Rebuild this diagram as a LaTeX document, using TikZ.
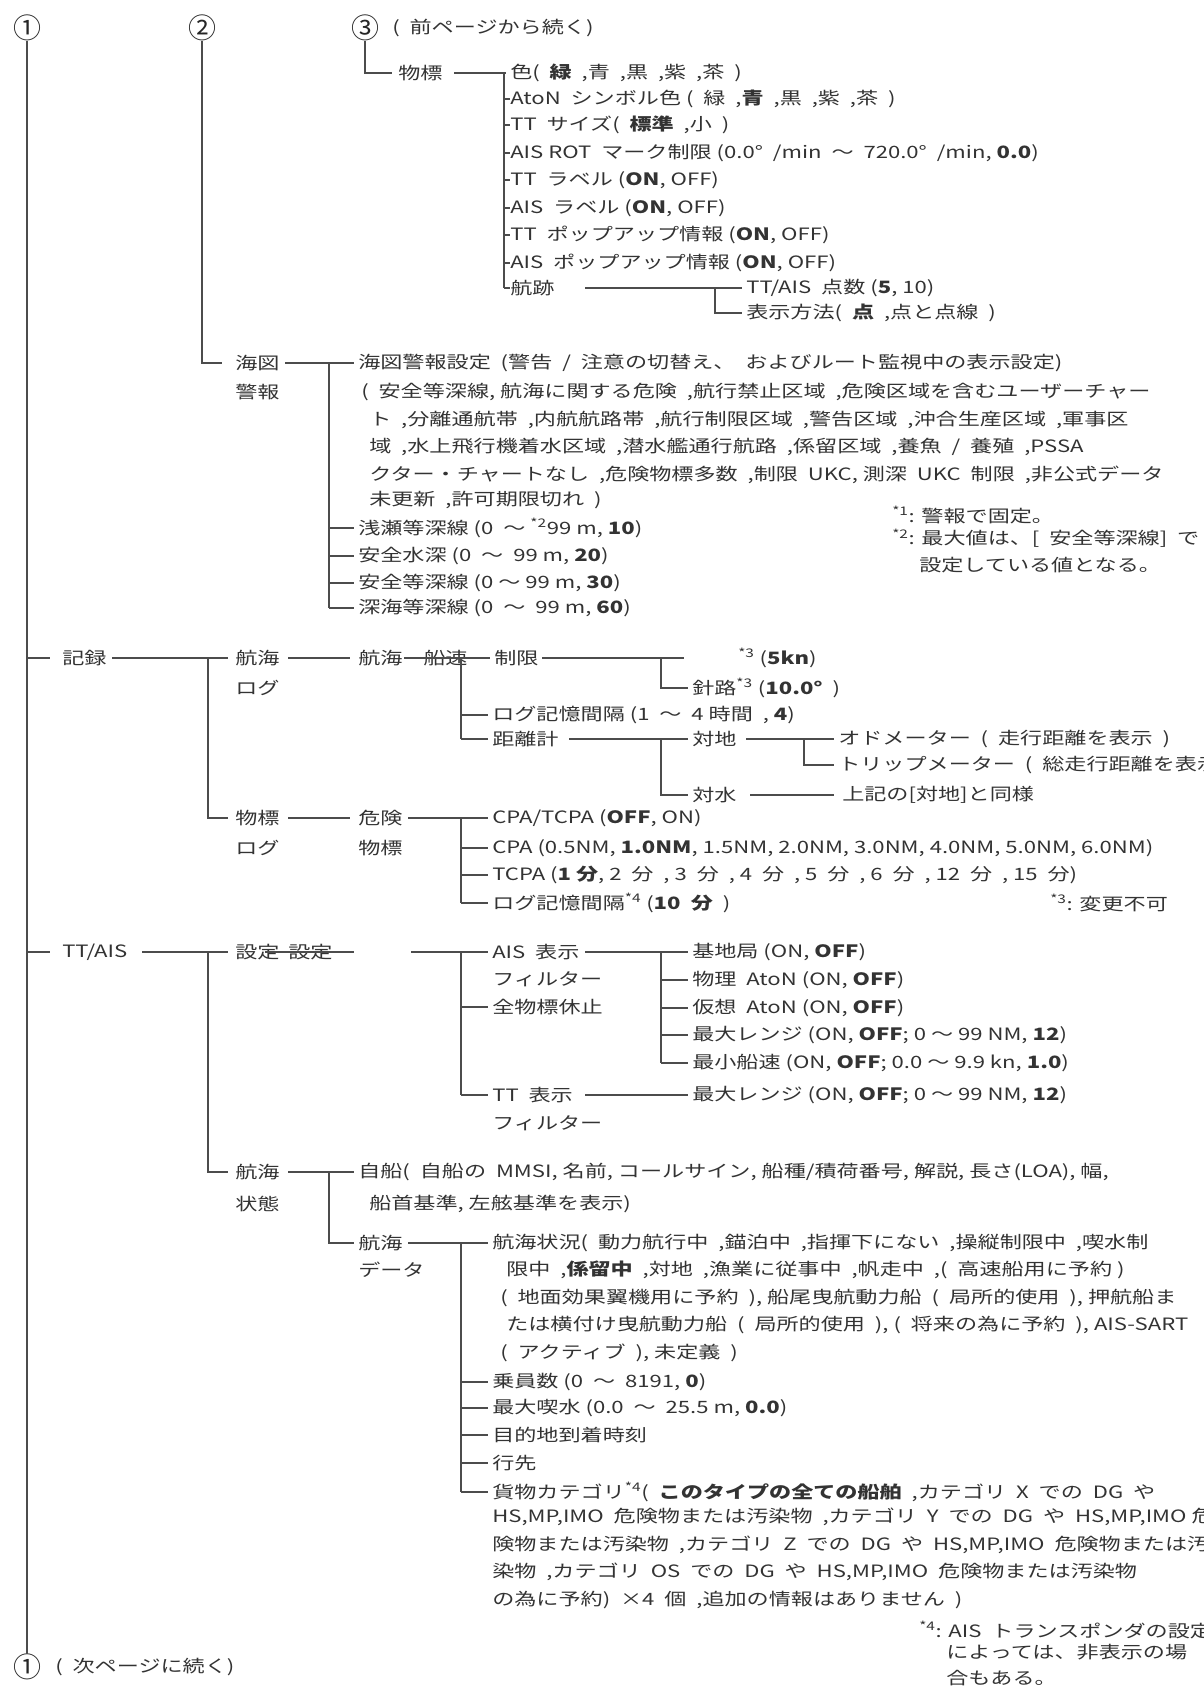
\documentclass[tikz,border=0pt]{standalone}
\usepackage{fontspec}
\setmainfont{Noto Sans CJK JP}
\newfontfamily\jp{Noto Sans CJK JP}
\begin{document}
\begin{tikzpicture}[x=1pt,y=-1pt,
 t/.style={anchor=west,inner sep=0pt,font=\jp\fontsize{17}{17}\selectfont,text=black!80,xscale=1.3},
 cn/.style={anchor=center,inner sep=0pt,font=\jp\fontsize{28}{28}\selectfont,text=black!85},
 ln/.style={draw=black!70,line width=1.1pt}]
\useasboundingbox (0,0) rectangle (1203,1690);
\fill[white] (0,0) rectangle (1203,1690);
% circles
\node[cn] (c1) at (27,28) {①};
\node[cn] (c2) at (202,28) {②};
\node[cn] (c3) at (365,28) {③};
\node[t] (c3t) at (392,28) {( \ 前ページから続く)};
\node[cn] (c1b) at (27,1667) {①};
\node[t] (c1bt) at (55,1667) {( \ 次ページに続く)};
\draw[ln] (c1.south) -- (c1b.north);
\draw[ln] (c2.south) -- (202,363) -- (222,363);
\draw[ln] (c3.south) -- (365,73) -- (392,73);
% 物標 block
\node[t] (bh) at (398,73) {物標};
\draw[ln] (454,73) -- (506,73);
\draw[ln] (504,73) -- (504,288);
\foreach \y in {99,125,153,180,208,235,263,288} \draw[ln] (504,\y) -- (510,\y);
\node[t] (a1) at (510,73) {色( \ \textbf{緑} \ ,青 \ ,黒 \ ,紫 \ ,茶 \ )};
\node[t] (a2) at (510,99) {AtoN \ シンボル色 ( \ 緑 \ ,\textbf{青} \ ,黒 \ ,紫 \ ,茶 \ )};
\node[t] (a3) at (510,125) {TT \ サイズ( \ \textbf{標準} \ ,小 \ )};
\node[t] (a4) at (510,153) {AIS ROT \ マーク制限 (0.0° \ /min \ 〜 \ 720.0° \ /min, \textbf{0.0})};
\node[t] (a5) at (510,180) {TT \ ラベル (\textbf{ON}, OFF)};
\node[t] (a6) at (510,208) {AIS \ ラベル (\textbf{ON}, OFF)};
\node[t] (a7) at (510,235) {TT \ ポップアップ情報 (\textbf{ON}, OFF)};
\node[t] (a8) at (510,263) {AIS \ ポップアップ情報 (\textbf{ON}, OFF)};
\node[t] (a9) at (510,288) {航跡};
\draw[ln] (585,288) -- (742,288);
\draw[ln] (715,288) -- (715,313) -- (742,313);
\node[t] (b1) at (746,288) {TT/AIS \ 点数 (\textbf{5}, 10)};
\node[t] (b2) at (746,313) {表示方法( \ \textbf{点} \ ,点と点線 \ )};
% 海図警報
\node[t] (k1) at (235,363) {海図};
\node[t] (k2) at (235,392) {警報};
\draw[ln] (285,363) -- (354,363);
\draw[ln] (329,363) -- (329,608);
\foreach \y in {528,556,583,608} \draw[ln] (329,\y) -- (354,\y);
\node[t] (p1) at (358,363) {海図警報設定 \ (警告 \ / \ 注意の切替え、 \ およびルート監視中の表示設定)};
\node[t] (p2) at (361,392) {( \ 安全等深線, 航海に関する危険 \ ,航行禁止区域 \ ,危険区域を含むユーザーチャー};
\node[t] (p3) at (369,420) {ト \ ,分離通航帯 \ ,内航航路帯 \ ,航行制限区域 \ ,警告区域 \ ,沖合生産区域 \ ,軍事区};
\node[t] (p4) at (369,447) {域 \ ,水上飛行機着水区域 \ ,潜水艦通行航路 \ ,係留区域 \ ,養魚 \ / \ 養殖 \ ,PSSA};
\node[t] (p5) at (369,475) {クター・チャートなし \ ,危険物標多数 \ ,制限 \ UKC, 測深 \ UKC \ 制限 \ ,非公式データ};
\node[t] (p6) at (369,500) {未更新 \ ,許可期限切れ \ )};
\node[t] (q1) at (358,528) {浅瀬等深線 (0 \ 〜 \textsuperscript{*2}99 m, \textbf{10})};
\node[t] (q2) at (358,556) {安全水深 (0 \ 〜 \ 99 m, \textbf{20})};
\node[t] (q3) at (358,583) {安全等深線 (0 〜 99 m, \textbf{30})};
\node[t] (q4) at (358,608) {深海等深線 (0 \ 〜 \ 99 m, \textbf{60})};
\node[t] (f1) at (892,515) {\textsuperscript{*1}: 警報で固定。};
\node[t] (f2) at (892,538) {\textsuperscript{*2}: 最大値は、[ \ 安全等深線] \ で};
\node[t] (f3) at (919,565) {設定している値となる。};
% 記録
\draw[ln] (27,658) -- (50,658);
\node[t] (r0) at (62,658) {記録};
\draw[ln] (112,658) -- (208,658) -- (228,658);
\draw[ln] (208,658) -- (208,818) -- (228,818);
\node[t] (r1) at (235,658) {航海};
\node[t] (r1b) at (235,688) {ログ};
\draw[ln] (288,658) -- (350,658);
\node[t] (r2) at (358,658) {航海};
\node[t] (r2b) at (423,658) {船速};
\draw[ln] (404,658) -- (490,658);
\node[t] (r3) at (494,658) {制限};
\draw[ln] (461,658) -- (461,739);
\foreach \y in {715,739} \draw[ln] (461,\y) -- (488,\y);
\node[t] (r4) at (492,715) {ログ記憶間隔 (1 \ 〜 \ 4 時間 \ , \textbf{4})};
\node[t] (r5) at (492,739) {距離計};
\draw[ln] (542,658) -- (684,658);
\draw[ln] (661,658) -- (661,688) -- (688,688);
\node[t] (s1) at (738,658) {\textsuperscript{*3} (\textbf{5kn})};
\node[t] (s2) at (692,688) {針路\textsuperscript{*3} (\textbf{10.0°} \ )};
\draw[ln] (569,739) -- (688,739);
\draw[ln] (661,739) -- (661,795) -- (688,795);
\node[t] (s3) at (692,739) {対地};
\node[t] (s4) at (692,795) {対水};
\draw[ln] (746,739) -- (834,739);
\draw[ln] (804,739) -- (804,765) -- (834,765);
\node[t] (s5) at (838,739) {オドメーター \ ( \ 走行距離を表示 \ )};
\node[t] (s6) at (838,765) {トリップメーター \ ( \ 総走行距離を表示 \ )};
\draw[ln] (750,795) -- (834,795);
\node[t] (s7) at (842,795) {上記の[対地]と同様};
\node[t] (m1) at (235,818) {物標};
\node[t] (m1b) at (235,848) {ログ};
\draw[ln] (288,818) -- (350,818);
\node[t] (m2) at (358,818) {危険};
\node[t] (m2b) at (358,848) {物標};
\draw[ln] (408,818) -- (488,818);
\draw[ln] (461,818) -- (461,903);
\foreach \y in {848,875,903} \draw[ln] (461,\y) -- (488,\y);
\node[t] (m3) at (492,818) {CPA/TCPA (\textbf{OFF}, ON)};
\node[t] (m4) at (492,848) {CPA (0.5NM, \textbf{1.0NM}, 1.5NM, 2.0NM, 3.0NM, 4.0NM, 5.0NM, 6.0NM)};
\node[t] (m5) at (492,875) {TCPA (\textbf{1 分}, 2 \ 分 \ , 3 \ 分 \ , 4 \ 分 \ , 5 \ 分 \ , 6 \ 分 \ , 12 \ 分 \ , 15 \ 分)};
\node[t] (m6) at (492,903) {ログ記憶間隔\textsuperscript{*4} (\textbf{10 \ 分} \ )};
\node[t] (f4) at (1050,903) {\textsuperscript{*3}: 変更不可};
% TT/AIS
\draw[ln] (27,952) -- (50,952);
\node[t] (u0) at (62,952) {TT/AIS};
\draw[ln] (142,952) -- (228,952);
\draw[ln] (208,952) -- (208,1172) -- (228,1172);
\node[t] (u1) at (235,952) {設定};
\node[t] (u1b) at (288,952) {設定};
\draw[ln] (265,952) -- (354,952);
\draw[ln] (411,952) -- (488,952);
\draw[ln] (461,952) -- (461,1095);
\foreach \y in {1007,1095} \draw[ln] (461,\y) -- (488,\y);
\node[t] (v1) at (492,952) {AIS \ 表示};
\node[t] (v1b) at (492,979) {フィルター};
\node[t] (v2) at (492,1007) {全物標休止};
\node[t] (v3) at (492,1095) {TT \ 表示};
\node[t] (v3b) at (492,1123) {フィルター};
\draw[ln] (585,952) -- (688,952);
\draw[ln] (661,952) -- (661,1063);
\foreach \y in {980,1008,1035,1063} \draw[ln] (661,\y) -- (688,\y);
\node[t] (w1) at (692,952) {基地局 (ON, \textbf{OFF})};
\node[t] (w2) at (692,980) {物理 \ AtoN (ON, \textbf{OFF})};
\node[t] (w3) at (692,1008) {仮想 \ AtoN (ON, \textbf{OFF})};
\node[t] (w4) at (692,1035) {最大レンジ (ON, \textbf{OFF}; 0 〜 99 NM, \textbf{12})};
\node[t] (w5) at (692,1063) {最小船速 (ON, \textbf{OFF}; 0.0 〜 9.9 kn, \textbf{1.0})};
\draw[ln] (585,1095) -- (688,1095);
\node[t] (w6) at (692,1095) {最大レンジ (ON, \textbf{OFF}; 0 〜 99 NM, \textbf{12})};
% 航海状態
\node[t] (x1) at (235,1172) {航海};
\node[t] (x1b) at (235,1204) {状態};
\draw[ln] (288,1172) -- (354,1172);
\draw[ln] (329,1172) -- (329,1243) -- (354,1243);
\node[t] (x2) at (358,1172) {自船( \ 自船の \ MMSI, 名前, コールサイン, 船種/積荷番号, 解説, 長さ(LOA), 幅,};
\node[t] (x2b) at (369,1204) {船首基準, 左舷基準を表示)};
\node[t] (x3) at (358,1243) {航海};
\node[t] (x3b) at (358,1270) {データ};
\draw[ln] (408,1243) -- (488,1243);
\draw[ln] (461,1243) -- (461,1492);
\foreach \y in {1382,1408,1435,1463,1492} \draw[ln] (461,\y) -- (488,\y);
\node[t] (y1) at (492,1243) {航海状況( \ 動力航行中 \ ,錨泊中 \ ,指揮下にない \ ,操縦制限中 \ ,喫水制};
\node[t] (y2) at (506,1270) {限中 \ ,\textbf{係留中} \ ,対地 \ ,漁業に従事中 \ ,帆走中 \ ,( \ 高速船用に予約 )};
\node[t] (y3) at (500,1298) {( \ 地面効果翼機用に予約 \ ), 船尾曳航動力船 \ ( \ 局所的使用 \ ), 押航船ま};
\node[t] (y4) at (506,1325) {たは横付け曳航動力船 \ ( \ 局所的使用 \ ), ( \ 将来の為に予約 \ ), AIS-SART};
\node[t] (y5) at (500,1353) {( \ アクティブ \ ), 未定義 \ )};
\node[t] (y6) at (492,1382) {乗員数 (0 \ 〜 \ 8191, \textbf{0})};
\node[t] (y7) at (492,1408) {最大喫水 (0.0 \ 〜 \ 25.5 m, \textbf{0.0})};
\node[t] (y8) at (492,1435) {目的地到着時刻};
\node[t] (y9) at (492,1463) {行先};
\node[t] (z1) at (492,1492) {貨物カテゴリ\textsuperscript{*4}( \ \textbf{このタイプの全ての船舶} \ ,カテゴリ \ X \ での \ DG \ や};
\node[t] (z2) at (492,1517) {HS,MP,IMO \ 危険物または汚染物 \ ,カテゴリ \ Y \ での \ DG \ や \ HS,MP,IMO 危};
\node[t] (z3) at (492,1545) {険物または汚染物 \ ,カテゴリ \ Z \ での \ DG \ や \ HS,MP,IMO \ 危険物または汚};
\node[t] (z4) at (492,1572) {染物 \ ,カテゴリ \ OS \ での \ DG \ や \ HS,MP,IMO \ 危険物または汚染物};
\node[t] (z5) at (492,1600) {の為に予約) \ ×4 \ 個 \ ,追加の情報はありません \ )};
\node[t] (f5) at (919,1630) {\textsuperscript{*4}: AIS \ トランスポンダの設定};
\node[t] (f6) at (946,1652) {によっては、非表示の場};
\node[t] (f7) at (946,1678) {合もある。};
\end{tikzpicture}
\end{document}
